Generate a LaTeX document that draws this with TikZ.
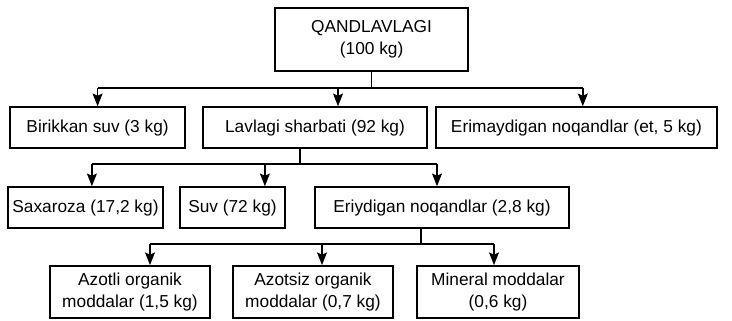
\documentclass[tikz,border=0pt]{standalone}
\usepackage{fontspec}
\setmainfont{Liberation Sans}
\usetikzlibrary{positioning, arrows.meta, calc}

\begin{document}
\begin{tikzpicture}[
    box/.style={draw, line width=1.2pt, rectangle, align=center,
                font=\fontsize{12.3}{15.5}\selectfont, minimum height=1.025cm, inner sep=2pt},
    twoline/.style={box, minimum height=1.3cm},
    feed/.style={line width=1.2pt, -{Stealth[length=9pt, width=7pt, inset=1.5pt]}},
    bus/.style={line width=1.2pt}
]
    \useasboundingbox (0,0) rectangle (18.3,-8.025);

    % ========== QANDLAVLAGI ==========
    \node[box, minimum width=4.83cm, minimum height=1.575cm] (qand) at (9.29,-0.99)
        {QANDLAVLAGI\\(100 kg)};

    % ========== first split ==========
    \node[box, minimum width=4.375cm] (suvb)    at (2.44,-3.19)  {Birikkan suv (3 kg)};
    \node[box, minimum width=5.6cm]   (sharbat) at (7.875,-3.19) {Lavlagi sharbati (92 kg)};
    \node[box, minimum width=7.025cm] (erimas)  at (14.41,-3.19) {Erimaydigan noqandlar (et, 5 kg)};

    % ========== sharbat split ==========
    \node[box, minimum width=3.875cm] (saxar)  at (2.1375,-5.19) {Saxaroza (17,2 kg)};
    \node[box, minimum width=2.625cm] (suv)    at (5.8125,-5.19) {Suv (72 kg)};
    \node[box, minimum width=6.35cm]  (eriyd)  at (11.05,-5.19)  {Eriydigan noqandlar (2,8 kg)};

    % ========== noqandlar split ==========
    \node[twoline, minimum width=4.0cm]  (azotli)  at (3.25,-7.3)  {Azotli organik\\moddalar (1,5 kg)};
    \node[twoline, minimum width=4.0cm]  (azotsiz) at (7.825,-7.3) {Azotsiz organik\\moddalar (0,7 kg)};
    \node[twoline, minimum width=4.05cm] (mineral) at (12.45,-7.3) {Mineral moddalar\\(0,6 kg)};

    % --- QANDLAVLAGI -> first split ---
    \draw[bus] (qand.south) -- ++(0,-0.4) coordinate (bus1);
    \draw[bus] (suvb.north |- bus1) -- ([xshift=0.16cm]erimas.north |- bus1);
    \draw[feed] (suvb.north |- bus1) -- (suvb.north);
    \draw[feed] ([xshift=0.575cm]sharbat.north |- bus1) -- ([xshift=0.575cm]sharbat.north);
    \draw[feed] ([xshift=0.16cm]erimas.north |- bus1) -- ([xshift=0.16cm]erimas.north);

    % --- sharbat -> saxaroza, suv, noqandlar ---
    \draw[bus] ([xshift=-0.375cm]sharbat.south) -- ++(0,-0.375) coordinate (bus2);
    \draw[bus] ([xshift=0.16cm]saxar.north |- bus2) -- ([xshift=-0.125cm]eriyd.north |- bus2);
    \draw[feed] ([xshift=0.16cm]saxar.north |- bus2) -- ([xshift=0.16cm]saxar.north);
    \draw[feed] ([xshift=0.81cm]suv.north |- bus2) -- ([xshift=0.81cm]suv.north);
    \draw[feed] ([xshift=-0.125cm]eriyd.north |- bus2) -- ([xshift=-0.125cm]eriyd.north);

    % --- noqandlar -> organik / mineral ---
    \draw[bus] ([xshift=-0.525cm]eriyd.south) -- ++(0,-0.375) coordinate (bus3);
    \draw[bus] ([xshift=0.5cm]azotli.north |- bus3) -- ([xshift=-0.1cm]mineral.north |- bus3);
    \draw[feed] ([xshift=0.5cm]azotli.north |- bus3) -- ([xshift=0.5cm]azotli.north);
    \draw[feed] ([xshift=0.225cm]azotsiz.north |- bus3) -- ([xshift=0.225cm]azotsiz.north);
    \draw[feed] ([xshift=-0.1cm]mineral.north |- bus3) -- ([xshift=-0.1cm]mineral.north);
\end{tikzpicture}
\end{document}
